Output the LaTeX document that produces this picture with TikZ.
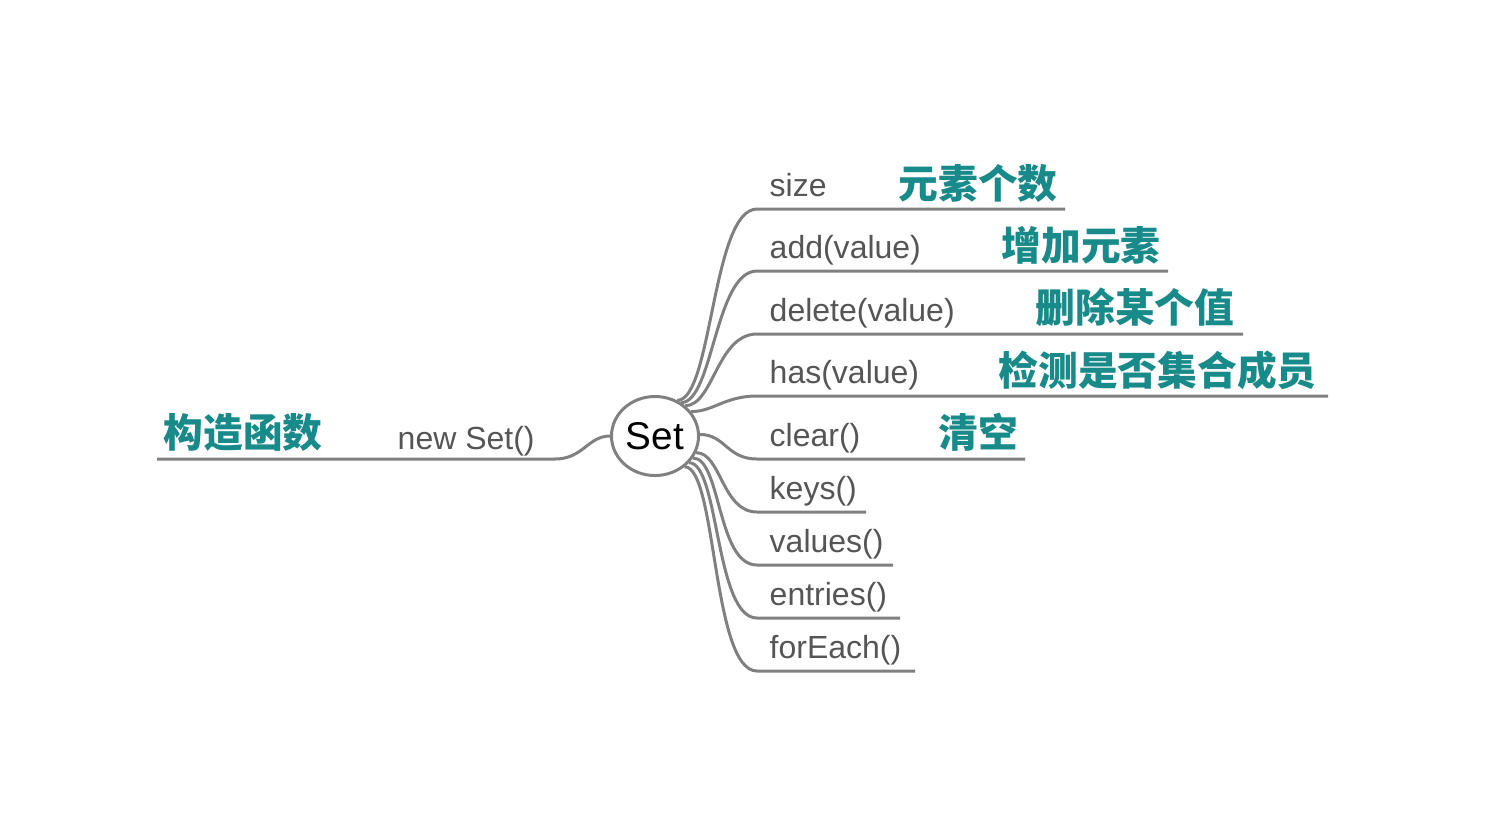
\documentclass[tikz,border=0pt]{standalone}
\usepackage{fontspec}
\setmainfont{Liberation Sans}
\newfontfamily\cjk{Noto Sans CJK SC}
\usetikzlibrary{shapes.geometric}
\definecolor{branchgray}{RGB}{128,128,128}
\definecolor{labelgray}{RGB}{85,85,85}
\definecolor{noteteal}{RGB}{24,138,138}
\tikzset{
  item/.style={anchor=base west, inner sep=0pt, text=labelgray,
               font=\fontsize{9.1}{11}\selectfont},
  note/.style={anchor=west, inner sep=0pt, text=noteteal,
               font=\cjk\bfseries\fontsize{11.3}{13}\selectfont},
  branch/.style={draw=branchgray, line width=0.85pt},
}
\begin{document}
\begin{tikzpicture}[x=0.01cm, y=-0.01cm,
    root/.style={ellipse, draw=branchgray, line width=0.85pt, inner sep=0pt,
                 minimum width=0.87cm, minimum height=0.79cm,
                 font=\fontsize{11}{13}\selectfont}
  ]
    \useasboundingbox (0,0) rectangle (1485,829);
    \node[root] (set) at (655,436) {Set};
    % left side
    \node[item] (new) at (397,449) {new Set()};
    \node[note] (ctor) at (163,432) {构造函数};
    \coordinate (new-s) at (555,459); \coordinate (new-e) at (157,459);
    \draw[branch] (set.west) .. controls +(-22,0) and +(28,0) .. (new-s) -- (new-e);
    % right side
    \node[item] (size)    at (769,196) {size};
    \node[item] (add)     at (769,258) {add(value)};
    \node[item] (delete)  at (769,321) {delete(value)};
    \node[item] (has)     at (769,383) {has(value)};
    \node[item] (clear)   at (769,446) {clear()};
    \node[item] (keys)    at (769,499) {keys()};
    \node[item] (values)  at (769,552) {values()};
    \node[item] (entries) at (769,605) {entries()};
    \node[item] (foreach) at (769,658) {forEach()};
    \node[note] (sizenote)   at (898,183)  {元素个数};
    \node[note] (addnote)    at (1001,245) {增加元素};
    \node[note] (deletenote) at (1035,307) {删除某个值};
    \node[note] (hasnote)    at (998,370)  {检测是否集合成员};
    \node[note] (clearnote)  at (938,432)  {清空};
    \coordinate (size-s) at (757,209);    \coordinate (size-e) at (1065,209);
    \coordinate (add-s) at (757,271);     \coordinate (add-e) at (1168,271);
    \coordinate (delete-s) at (757,334);  \coordinate (delete-e) at (1243,334);
    \coordinate (has-s) at (757,396);     \coordinate (has-e) at (1328,396);
    \coordinate (clear-s) at (757,459);   \coordinate (clear-e) at (1025,459);
    \coordinate (keys-s) at (757,512);    \coordinate (keys-e) at (866,512);
    \coordinate (values-s) at (757,565);  \coordinate (values-e) at (893,565);
    \coordinate (entries-s) at (757,618); \coordinate (entries-e) at (900,618);
    \coordinate (foreach-s) at (757,671); \coordinate (foreach-e) at (915,671);
    \draw[branch] (set.58) .. controls +(35,0) and +(-45,0) .. (size-s) -- (size-e);
    \draw[branch] (set.52) .. controls +(32,0) and +(-42,0) .. (add-s) -- (add-e);
    \draw[branch] (set.45) .. controls +(28,0) and +(-40,0) .. (delete-s) -- (delete-e);
    \draw[branch] (set.34) .. controls +(22,0) and +(-32,0) .. (has-s) -- (has-e);
    \draw[branch] (set.2) .. controls +(25,0) and +(-30,0) .. (clear-s) -- (clear-e);
    \draw[branch] (set.-22) .. controls +(25,0) and +(-35,0) .. (keys-s) -- (keys-e);
    \draw[branch] (set.-30) .. controls +(28,0) and +(-40,0) .. (values-s) -- (values-e);
    \draw[branch] (set.-38) .. controls +(30,0) and +(-42,0) .. (entries-s) -- (entries-e);
    \draw[branch] (set.-46) .. controls +(32,0) and +(-45,0) .. (foreach-s) -- (foreach-e);
  \end{tikzpicture}
\end{document}
